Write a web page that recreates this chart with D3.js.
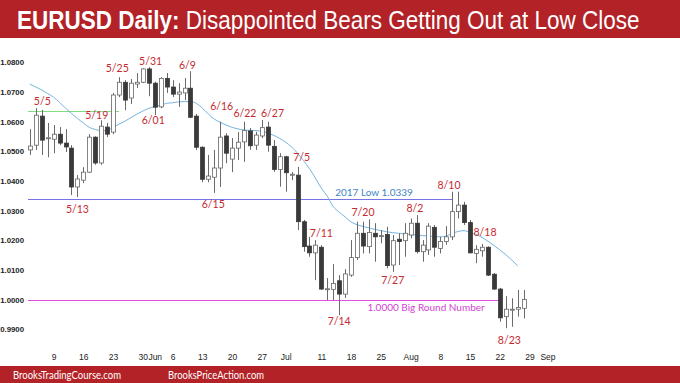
<!DOCTYPE html>
<html><head><meta charset="utf-8">
<script src="https://cdn.jsdelivr.net/npm/d3@7"></script>
<style>body{margin:0;background:#fff}svg{display:block}</style>
</head><body><svg id="c" width="680" height="383"></svg>
<script>
// ---------- data ----------
const dates = ["2022-05-03","2022-05-04","2022-05-05","2022-05-06",
"2022-05-09","2022-05-10","2022-05-11","2022-05-12","2022-05-13",
"2022-05-16","2022-05-17","2022-05-18","2022-05-19","2022-05-20",
"2022-05-23","2022-05-24","2022-05-25","2022-05-26","2022-05-27",
"2022-05-30","2022-05-31","2022-06-01","2022-06-02","2022-06-03",
"2022-06-06","2022-06-07","2022-06-08","2022-06-09","2022-06-10",
"2022-06-13","2022-06-14","2022-06-15","2022-06-16","2022-06-17",
"2022-06-20","2022-06-21","2022-06-22","2022-06-23","2022-06-24",
"2022-06-27","2022-06-28","2022-06-29","2022-06-30","2022-07-01",
"2022-07-04","2022-07-05","2022-07-06","2022-07-07","2022-07-08",
"2022-07-11","2022-07-12","2022-07-13","2022-07-14","2022-07-15",
"2022-07-18","2022-07-19","2022-07-20","2022-07-21","2022-07-22",
"2022-07-25","2022-07-26","2022-07-27","2022-07-28","2022-07-29",
"2022-08-01","2022-08-02","2022-08-03","2022-08-04","2022-08-05",
"2022-08-08","2022-08-09","2022-08-10","2022-08-11","2022-08-12",
"2022-08-15","2022-08-16","2022-08-17","2022-08-18","2022-08-19",
"2022-08-22","2022-08-23","2022-08-24","2022-08-25","2022-08-26"];

const open = [1.0505,1.0521,1.0619,1.0543,
1.0541,1.0558,1.0528,1.0511,1.0380,
1.0403,1.0430,1.0548,1.0461,1.0582,
1.0565,1.0690,1.0733,1.0680,1.0727,
1.0733,1.0778,1.0730,1.0650,1.0746,
1.0717,1.0693,1.0697,1.0713,1.0619,
1.0514,1.0406,1.0413,1.0444,1.0552,
1.0474,1.0511,1.0532,1.0569,1.0521,
1.0552,1.0582,1.0517,1.0439,1.0482,
1.0423,1.0420,1.0263,1.0181,1.0158,
1.0177,1.0037,1.0035,1.0064,1.0019,
1.0083,1.0142,1.0224,1.0179,1.0224,
1.0216,1.0220,1.0117,1.0204,1.0199,
1.0218,1.0258,1.0162,1.0168,1.0244,
1.0173,1.0196,1.0212,1.0297,1.0319,
1.0260,1.0156,1.0165,1.0177,1.0086,
1.0036,0.9943,0.9968,0.9968,0.9971];

const high = [1.0575,1.0646,1.0640,1.0596,
1.0589,1.0582,1.0575,1.0521,1.0420,
1.0447,1.0558,1.0551,1.0605,1.0596,
1.0697,1.0750,1.0740,1.0744,1.0764,
1.0780,1.0784,1.0735,1.0750,1.0764,
1.0740,1.0730,1.0747,1.0770,1.0626,
1.0517,1.0488,1.0505,1.0600,1.0561,
1.0545,1.0565,1.0600,1.0579,1.0566,
1.0606,1.0600,1.0538,1.0494,1.0485,
1.0431,1.0448,1.0269,1.0212,1.0201,
1.0184,1.0073,1.0120,1.0083,1.0103,
1.0201,1.0263,1.0263,1.0271,1.0258,
1.0235,1.0246,1.0218,1.0224,1.0258,
1.0274,1.0285,1.0201,1.0258,1.0252,
1.0212,1.0248,1.0364,1.0364,1.0330,
1.0269,1.0184,1.0188,1.0180,1.0090,
1.0040,1.0012,1.0005,1.0033,1.0033];

const low = [1.0488,1.0505,1.0488,1.0480,
1.0494,1.0521,1.0498,1.0353,1.0346,
1.0393,1.0427,1.0455,1.0455,1.0548,
1.0558,1.0683,1.0639,1.0660,1.0714,
1.0730,1.0686,1.0622,1.0646,1.0697,
1.0683,1.0650,1.0673,1.0612,1.0505,
1.0396,1.0396,1.0360,1.0380,1.0460,
1.0430,1.0471,1.0465,1.0505,1.0505,
1.0545,1.0499,1.0431,1.0381,1.0364,
1.0403,1.0235,1.0162,1.0145,1.0066,
1.0033,0.9999,0.9999,0.9948,1.0006,
1.0077,1.0134,1.0156,1.0156,1.0128,
1.0190,1.0106,1.0094,1.0117,1.0145,
1.0207,1.0156,1.0128,1.0151,1.0145,
1.0156,1.0185,1.0201,1.0274,1.0252,
1.0156,1.0123,1.0145,1.0080,1.0033,
0.9926,0.9904,0.9909,0.9943,0.9937];

const close = [1.0518,1.0622,1.0538,1.0546,
1.0558,1.0528,1.0515,1.0380,1.0407,
1.0430,1.0548,1.0461,1.0585,1.0558,
1.0690,1.0733,1.0673,1.0730,1.0733,
1.0778,1.0730,1.0649,1.0746,1.0717,
1.0693,1.0700,1.0713,1.0615,1.0514,
1.0406,1.0417,1.0444,1.0548,1.0494,
1.0511,1.0531,1.0570,1.0519,1.0555,
1.0580,1.0521,1.0439,1.0482,1.0428,
1.0423,1.0263,1.0179,1.0158,1.0184,
1.0036,1.0037,1.0055,1.0019,1.0087,
1.0142,1.0224,1.0181,1.0227,1.0212,
1.0216,1.0115,1.0199,1.0196,1.0224,
1.0258,1.0162,1.0184,1.0248,1.0177,
1.0196,1.0212,1.0297,1.0319,1.0260,
1.0158,1.0170,1.0177,1.0083,1.0036,
0.9939,0.9968,0.9968,0.9974,1.0001];

// 20-period moving average line (ends one bar before the last)
const ema = [1.0727,1.0717,1.0707,1.0695,
1.0683,1.0665,1.0646,1.0628,1.0611,
1.0596,1.0581,1.0574,1.0570,1.0571,
1.0581,1.0592,1.0602,1.0614,1.0626,
1.0636,1.0645,1.0651,1.0656,1.0662,
1.0664,1.0667,1.0668,1.0668,1.0662,
1.0646,1.0626,1.0609,1.0598,1.0589,
1.0581,1.0576,1.0572,1.0571,1.0570,
1.0568,1.0562,1.0554,1.0544,1.0531,
1.0515,1.0494,1.0469,1.0442,1.0410,
1.0376,1.0349,1.0314,1.0295,1.0279,
1.0262,1.0253,1.0247,1.0242,1.0237,
1.0233,1.0229,1.0226,1.0224,1.0221,
1.0220,1.0218,1.0216,1.0215,1.0213,
1.0212,1.0215,1.0224,1.0230,1.0233,
1.0226,1.0220,1.0210,1.0197,1.0183,
1.0168,1.0152,1.0134,1.0114];

const yTicks = [0.99,1.00,1.01,1.02,1.03,1.04,1.05,1.06,1.07,1.08];
const xTickDates = ["2022-05-09","2022-05-16","2022-05-23","2022-05-30","2022-06-01","2022-06-06",
"2022-06-13","2022-06-20","2022-06-27","2022-07-01","2022-07-11","2022-07-18","2022-07-25",
"2022-08-01","2022-08-08","2022-08-15","2022-08-22","2022-08-29","2022-09-01"];
const xTickLabels = ["9","16","23","30","Jun","6","13","20","27","Jul","11","18","25","Aug","8","15","22","29","Sep"];

// horizontal levels
const levelNames = ["5/5 high","2017 Low","Big Round Number"];
const levelValues = [1.0636, 1.0339, 1.0000];
const levelEnd = ["2022-05-24","2022-08-10","2022-08-22"];
const levelColors = ["#7fdc7f","#7474e4","#e04fe0"];

// swing-point labels
const annText = ["5/5","5/13","5/19","5/25","5/31","6/01","6/9","6/15","6/16","6/22","6/27","7/5","7/11","7/14","7/20","7/27","8/2","8/10","8/18","8/23"];
const annDate = ["2022-05-05","2022-05-13","2022-05-19","2022-05-25","2022-05-31","2022-06-01","2022-06-09","2022-06-15","2022-06-16","2022-06-22","2022-06-27","2022-07-05","2022-07-11","2022-07-14","2022-07-20","2022-07-27","2022-08-02","2022-08-10","2022-08-18","2022-08-23"];
const annShift = [0.1,0,-0.75,-1.3,0.3,-0.25,-0.5,-0.17,0.25,0.15,1.8,0.7,0,0,0,0,-0.27,-0.55,-0.5,0.6];
const annPrice = [1.0670,1.0305,1.0623,1.0780,1.0802,1.0606,1.0791,1.0323,1.0653,1.0630,1.0630,1.0480,1.0224,0.9926,1.0293,1.0064,1.0308,1.0384,1.0226,0.9864];

const noteText = ["2017 Low 1.0339","1.0000 Big Round Number"];
const noteDate = ["2022-07-22","2022-08-03"];
const noteShift = [-0.15, 0.6];
const notePrice = [1.0361, 0.9973];
const noteColors = ["#3d84c4","#d23fd2"];

// ---------- drawing ----------
const svg = d3.select("#c");
const W = 680, H = 383;
const fmt = d3.timeFormat("%Y-%m-%d");
const allDays = d3.timeDay.range(new Date(2022,4,3), new Date(2022,8,3))
  .filter(d => d.getDay() !== 0 && d.getDay() !== 6).map(fmt);
const step = 5.95, x0 = 29.8;
const x = d3.scalePoint().domain(allDays).range([x0, x0 + step*(allDays.length-1)]);
const y = d3.scaleLinear().domain([0.99, 1.08]).range([329.4, 62.4]);

svg.append("rect").attr("width",W).attr("height",H).attr("fill","#fff");

// title bar
svg.append("rect").attr("x",0).attr("y",0).attr("width",W).attr("height",38).attr("fill","#b22226");
const title = svg.append("text").attr("x",0).attr("y",0)
  .attr("font-family","'Liberation Sans',Arial,sans-serif")
  .attr("font-size",25).attr("fill","#fff");
title.append("tspan").attr("font-weight","bold").text("EURUSD Daily:");
title.append("tspan").text(" Disappointed Bears Getting Out at Low Close");
const tw = title.node().getComputedTextLength();
title.attr("transform", `translate(17,29) scale(${623/tw},1)`);

// footer bar
svg.append("rect").attr("x",0).attr("y",366).attr("width",W).attr("height",17).attr("fill","#b22226");
const footFont = "Lato,'Open Sans','Liberation Sans',sans-serif";
svg.append("text").attr("x",13).attr("y",379).attr("font-family",footFont).attr("font-size",11)
  .attr("fill","#fff").attr("textLength",108).attr("lengthAdjust","spacingAndGlyphs").text("BrooksTradingCourse.com");
svg.append("text").attr("x",168).attr("y",379).attr("font-family",footFont).attr("font-size",11)
  .attr("fill","#fff").attr("textLength",96).attr("lengthAdjust","spacingAndGlyphs").text("BrooksPriceAction.com");

// axes
const gy = svg.append("g").attr("transform","translate(27,0)")
  .call(d3.axisLeft(y).tickValues(yTicks).tickFormat(d3.format(".4f")).tickSize(0).tickPadding(3));
gy.select(".domain").remove();
gy.selectAll("text").attr("font-family","'Liberation Sans',Arial,sans-serif")
  .attr("font-size",7.8).attr("font-weight","bold").attr("fill","#222");

const gx = svg.append("g").attr("transform","translate(0,350)")
  .call(d3.axisBottom(x).tickValues(xTickDates).tickFormat((d,i)=>xTickLabels[i]).tickSize(0).tickPadding(4));
gx.select(".domain").remove();
gx.selectAll("text").attr("font-family","'Liberation Sans Narrow','Arial Narrow','Liberation Sans',sans-serif")
  .attr("font-size",8.5).attr("fill","#222");

// horizontal level lines
levelValues.forEach((v,i) => {
  const yy = Math.round(y(v)) + 0.5;
  svg.append("line").attr("x1",28).attr("x2",x(levelEnd[i]))
    .attr("y1",yy).attr("y2",yy).attr("stroke",levelColors[i]).attr("stroke-width",1.2);
});

// moving average
const emaLine = d3.line().x((d,i)=>x(dates[i])).y(d=>y(d)).curve(d3.curveMonotoneX);
svg.append("path").attr("d",emaLine(ema)).attr("fill","none")
  .attr("stroke","#74b4de").attr("stroke-width",1);

// candles
const bars = dates.map((d,i)=>({d,o:open[i],h:high[i],l:low[i],c:close[i]}));
const g = svg.append("g");
g.selectAll("line.w").data(bars).join("line")
  .attr("x1",b=>Math.round(x(b.d))+0.5).attr("x2",b=>Math.round(x(b.d))+0.5)
  .attr("y1",b=>y(b.h)).attr("y2",b=>y(b.l))
  .attr("stroke","#6a6a6a").attr("stroke-width",1);
g.selectAll("rect.b").data(bars).join("rect")
  .attr("x",b=>Math.round(x(b.d))-1.5).attr("width",4)
  .attr("y",b=>y(Math.max(b.o,b.c)))
  .attr("height",b=>Math.max(1, y(Math.min(b.o,b.c)) - y(Math.max(b.o,b.c))))
  .attr("fill",b=>b.c < b.o ? "#3a3a3a" : "#fff")
  .attr("stroke",b=>b.c < b.o ? "#3a3a3a" : "#666")
  .attr("stroke-width",0.8);

// labels
const annFont = "Lato,'Liberation Sans',sans-serif";
annText.forEach((t,i)=>{
  svg.append("text").attr("x",x(annDate[i]) + annShift[i]*step).attr("y",y(annPrice[i]))
    .attr("dy","0.35em").attr("text-anchor","middle")
    .attr("font-family",annFont).attr("font-size",10.5).attr("fill","#c32a2f").text(t);
});
noteText.forEach((t,i)=>{
  svg.append("text").attr("x",x(noteDate[i]) + noteShift[i]*step).attr("y",y(notePrice[i]))
    .attr("dy","0.35em").attr("text-anchor","middle")
    .attr("font-family",annFont).attr("font-size",10).attr("fill",noteColors[i]).text(t);
});
</script></body></html>
